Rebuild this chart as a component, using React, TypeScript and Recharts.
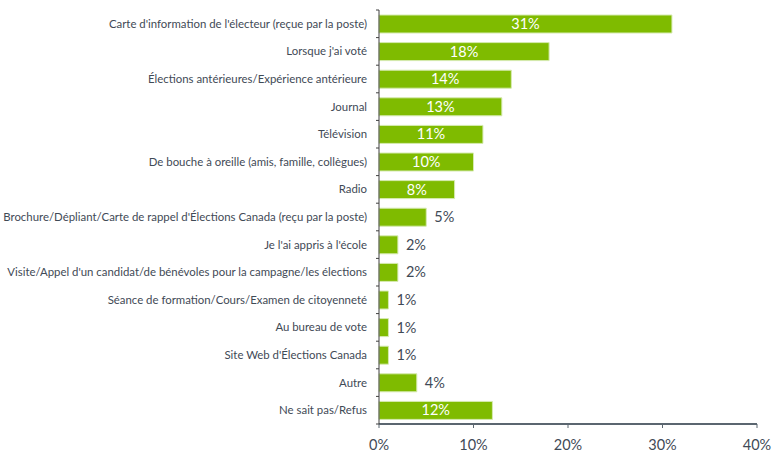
import { BarChart, Bar, XAxis, YAxis, LabelList } from "recharts"

const categories = [
  "Carte d'information de l'électeur (reçue par la poste)",
  "Lorsque j'ai voté",
  "Élections antérieures/Expérience antérieure",
  "Journal",
  "Télévision",
  "De bouche à oreille (amis, famille, collègues)",
  "Radio",
  "Brochure/Dépliant/Carte de rappel d'Élections Canada (reçu par la poste)",
  "Je l'ai appris à l'école",
  "Visite/Appel d'un candidat/de bénévoles pour la campagne/les élections",
  "Séance de formation/Cours/Examen de citoyenneté",
  "Au bureau de vote",
  "Site Web d'Élections Canada",
  "Autre",
  "Ne sait pas/Refus",
]

const values = [31, 18, 14, 13, 11, 10, 8, 5, 2, 2, 1, 1, 1, 4, 12]

const xTicks = [0, 10, 20, 30, 40]

const data = categories.map((name, i) => ({ name, value: values[i] }))

const TEXT = "#3f4a56"
const GREEN = "#7FBB00"
const FONT = "Lato, 'Open Sans', sans-serif"
const BAND = 414 / categories.length

// category label plus the small tick marks between bands
function CategoryTick(props: any) {
  const { x, y, payload, index } = props
  return (
    <g>
      <line x1={x + 15} x2={x + 18} y1={y + BAND / 2} y2={y + BAND / 2} stroke="#404040" />
      {index === 0 && (
        <line x1={x + 15} x2={x + 18} y1={y - BAND / 2} y2={y - BAND / 2} stroke="#404040" />
      )}
      <text x={x + 6} y={y} dy={4} textAnchor="end" fill={TEXT} fontSize={11.4} fontFamily={FONT}>
        {payload.value}
      </text>
    </g>
  )
}

function ValueLabel(props: any) {
  const { x, y, width, height, value } = props
  const inside = value >= 8
  return (
    <text
      x={inside ? x + width / 2 : x + width + 8}
      y={y + height / 2}
      dy={5}
      textAnchor={inside ? "middle" : "start"}
      fill={inside ? "#ffffff" : TEXT}
      fontSize={14.5}
      fontFamily={FONT}
    >
      {value}%
    </text>
  )
}

export default function App() {
  return (
    <div style={{ position: "absolute", left: 0, top: 0, width: 772, height: 456, background: "#fff" }}>
      <BarChart
        width={772}
        height={456}
        data={data}
        layout="vertical"
        margin={{ top: 10, right: 15, bottom: 0, left: 0 }}
        barSize={18}
      >
        <XAxis
          type="number"
          domain={[0, 40]}
          ticks={xTicks}
          tickFormatter={(v) => `${v}%`}
          height={32}
          axisLine={{ stroke: "#5b6670", strokeWidth: 2 }}
          tickLine={{ stroke: "#5b6670" }}
          tickSize={4}
          tickMargin={12}
          tick={{ fill: TEXT, fontSize: 14.5, fontFamily: FONT }}
        />
        <YAxis
          type="category"
          dataKey="name"
          width={379}
          axisLine={{ stroke: "#404040" }}
          tickLine={false}
          tick={<CategoryTick />}
          tickMargin={12}
          interval={0}
        />
        <Bar dataKey="value" fill={GREEN} stroke="#d6eab0" strokeWidth={1} isAnimationActive={false}>
          <LabelList dataKey="value" content={<ValueLabel />} />
        </Bar>
      </BarChart>
    </div>
  )
}
